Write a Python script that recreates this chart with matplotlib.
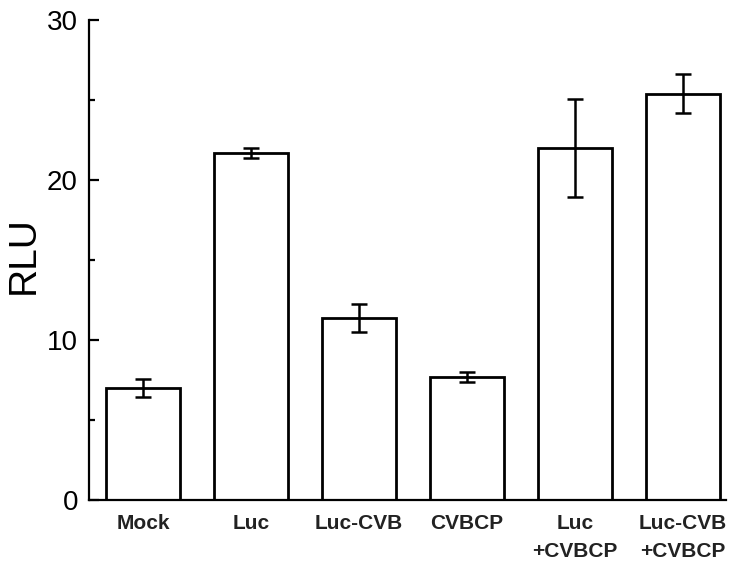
import matplotlib
matplotlib.use("Agg")
import matplotlib.pyplot as plt
import numpy as np
from matplotlib.ticker import MultipleLocator

categories = ["Mock", "Luc", "Luc-CVB", "CVBCP", "Luc\n+CVBCP", "Luc-CVB\n+CVBCP"]
values = [7.02, 21.7, 11.35, 7.68, 22.02, 25.4]
errors = [0.57, 0.33, 0.88, 0.33, 3.07, 1.2]

plt.rcParams['font.family'] = ['Liberation Sans', 'DejaVu Sans']

fig = plt.figure(figsize=(7.44, 5.70), dpi=100)
ax = fig.add_axes([89/744, 70/570, (726-89)/744, 480/570])

x = np.arange(len(categories))
ax.bar(x, values, width=0.69, color='white', edgecolor='black', linewidth=2.0,
       yerr=errors, capsize=6,
       error_kw=dict(elinewidth=1.8, capthick=1.8, ecolor='black'))

ax.set_ylim(0, 30)
ax.set_xlim(-0.50, 5.40)
ax.yaxis.set_major_locator(MultipleLocator(10))
ax.yaxis.set_minor_locator(MultipleLocator(5))
ax.tick_params(axis='y', which='major', length=7.5, width=1.6, labelsize=20,
               direction='in', pad=8)
ax.tick_params(axis='y', which='minor', length=4, width=1.6, direction='in')
ax.tick_params(axis='x', length=0, pad=10)
ax.set_xticks(x)
ax.set_xticklabels(categories, fontsize=15, fontweight='bold', color='#222222',
                   linespacing=1.6, va='top')

for s in ['top', 'right']:
    ax.spines[s].set_visible(False)
for s in ['left', 'bottom']:
    ax.spines[s].set_linewidth(1.6)

ax.set_ylabel("RLU", fontsize=28)
ax.yaxis.set_label_coords(-0.074, 0.51)

fig.savefig("out.png", dpi=100)
